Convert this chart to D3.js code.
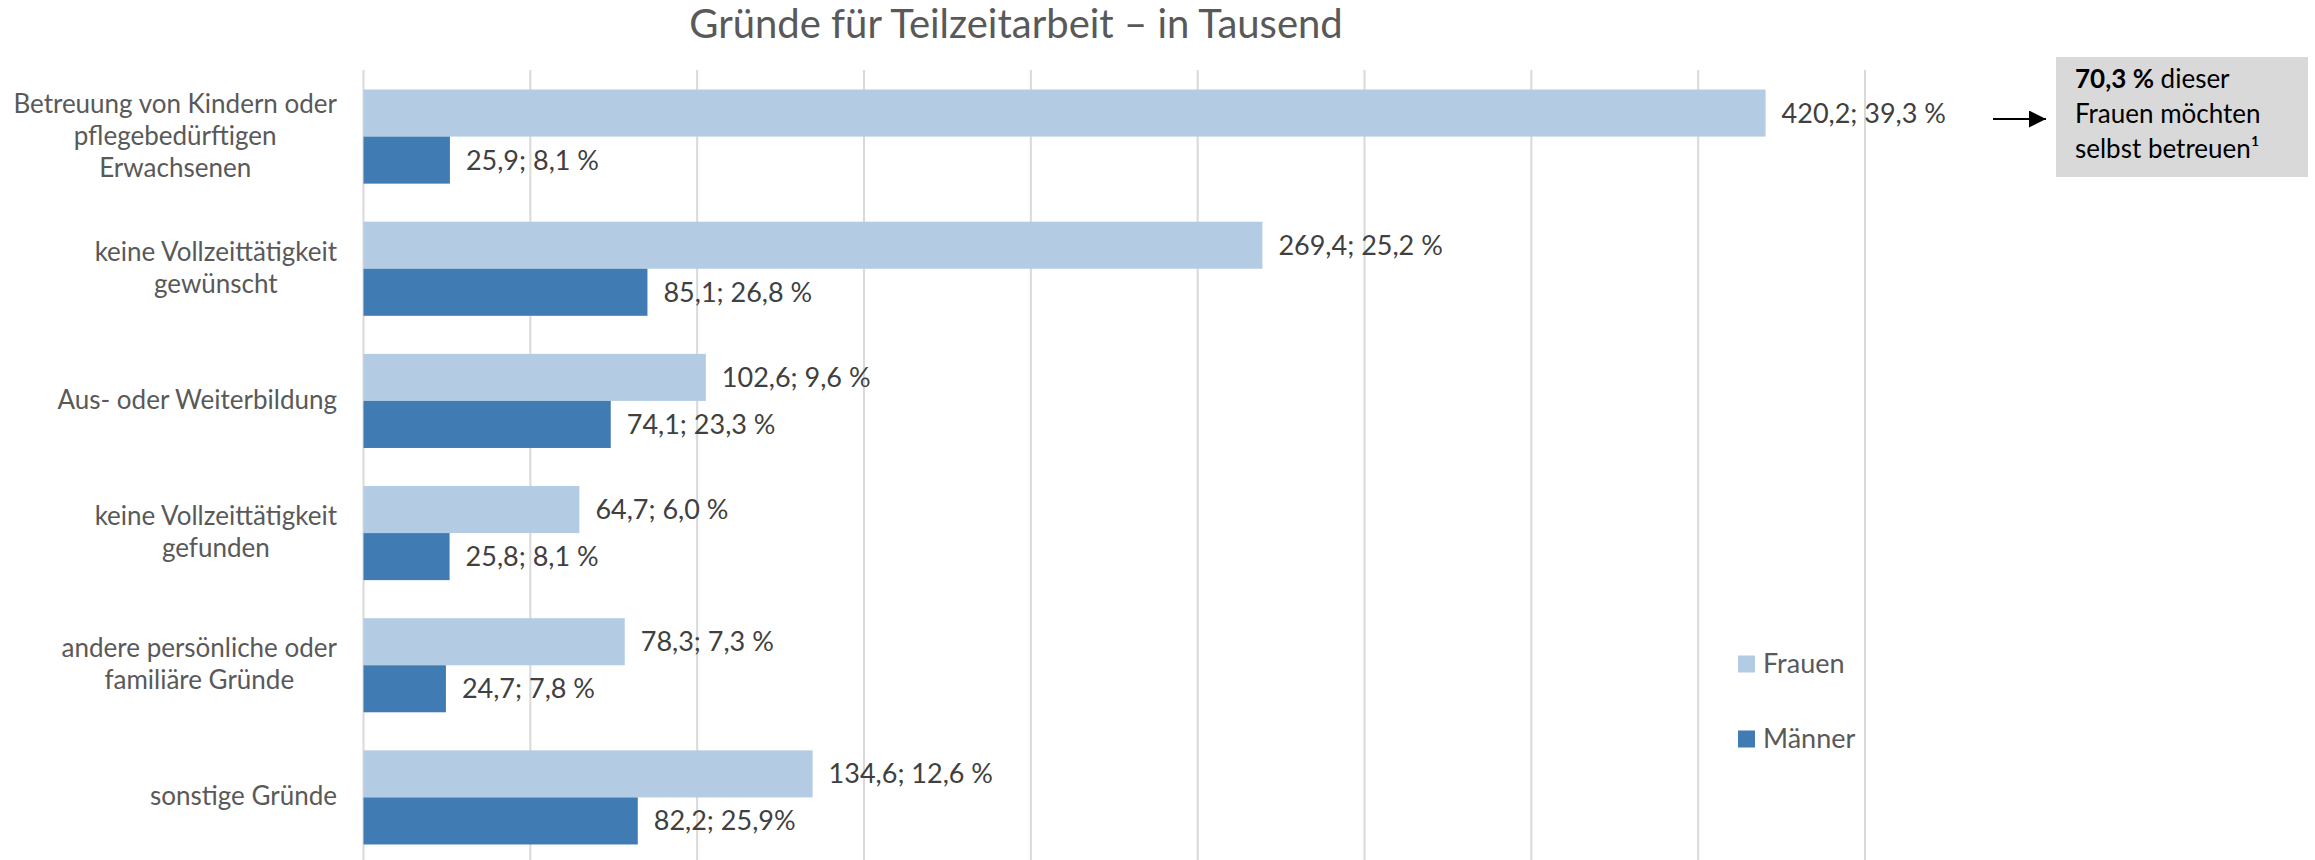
<!DOCTYPE html>
<html lang="de">
<head>
<meta charset="utf-8">
<title>Gründe für Teilzeitarbeit</title>
<script src="https://cdn.jsdelivr.net/npm/d3@7"></script>
<style>
  html, body { margin: 0; padding: 0; background: #ffffff; }
  svg { display: block; font-family: Lato, "Open Sans", sans-serif; }
</style>
</head>
<body>
<svg id="chart" width="2315" height="860"></svg>
<script>
// Reasons for part-time work, in thousands (women / men) with share of each group
const categories = [
  ["Betreuung von Kindern oder", "pflegebedürftigen", "Erwachsenen"],
  ["keine Vollzeittätigkeit", "gewünscht"],
  ["Aus- oder Weiterbildung"],
  ["keine Vollzeittätigkeit", "gefunden"],
  ["andere persönliche oder", "familiäre Gründe"],
  ["sonstige Gründe"]
];
const seriesNames = ["Frauen", "Männer"];
const frauen = [420.2, 269.4, 102.6, 64.7, 78.3, 134.6];
const maenner = [25.9, 85.1, 74.1, 25.8, 24.7, 82.2];
const frauenShare = ["39,3 %", "25,2 %", "9,6 %", "6,0 %", "7,3 %", "12,6 %"];
const maennerShare = ["8,1 %", "26,8 %", "23,3 %", "8,1 %", "7,8 %", "25,9%"];
const gridTicks = [0, 50, 100, 150, 200, 250, 300, 350, 400, 450];
const titleText = "Gründe für Teilzeitarbeit – in Tausend";
const noteBold = "70,3 %";
const noteLines = [" dieser", "Frauen möchten", "selbst betreuen¹"];

const colors = { Frauen: "#b3cce3", "Männer": "#407bb3" };

const svg = d3.select("#chart");
const catKeys = categories.map(c => c.join(" "));

const x = d3.scaleLinear().domain([0, 450]).range([363.5, 1865]);
const y = d3.scaleBand().domain(catKeys).range([70.5, 863.5])
  .paddingInner(0.288).paddingOuter(0.144);
const ySub = d3.scaleBand().domain(seriesNames).range([0, y.bandwidth()]);

const fmt = v => d3.format(".1f")(v).replace(".", ",");

// vertical gridlines
svg.append("g").selectAll("line").data(gridTicks).join("line")
  .attr("x1", d => x(d)).attr("x2", d => x(d))
  .attr("y1", 70).attr("y2", 860)
  .attr("stroke", "#d9d9d9").attr("stroke-width", 2);

// title
svg.append("text")
  .attr("x", 1016).attr("y", 38)
  .attr("text-anchor", "middle")
  .attr("fill", "#595959")
  .style("font-size", "40px")
  .text(titleText);

// bars and value labels
const rows = catKeys.map((k, i) => ({
  key: k,
  values: [
    { s: "Frauen", v: frauen[i], share: frauenShare[i] },
    { s: "Männer", v: maenner[i], share: maennerShare[i] }
  ]
}));

const groups = svg.append("g").selectAll("g").data(rows).join("g")
  .attr("transform", d => `translate(0,${y(d.key)})`);

groups.selectAll("rect").data(d => d.values).join("rect")
  .attr("x", x(0))
  .attr("y", d => ySub(d.s))
  .attr("width", d => x(d.v) - x(0))
  .attr("height", ySub.bandwidth())
  .attr("fill", d => colors[d.s]);

groups.selectAll("text.val").data(d => d.values).join("text")
  .attr("class", "val")
  .attr("x", d => x(d.v) + 16)
  .attr("y", d => ySub(d.s) + ySub.bandwidth() / 2)
  .attr("dy", "0.35em")
  .attr("fill", "#404040")
  .style("font-size", "27px")
  .text(d => `${fmt(d.v)}; ${d.share}`);

// category labels: lines centred within a right-aligned block
const labelRight = 337, lineGap = 32;
categories.forEach((lines, i) => {
  const cy = y(catKeys[i]) + y.bandwidth() / 2;
  const g = svg.append("g");
  const texts = lines.map((ln, j) => g.append("text")
    .attr("y", cy + 8 + (j - (lines.length - 1) / 2) * lineGap)
    .attr("text-anchor", "middle")
    .attr("fill", "#595959")
    .style("font-size", "26px")
    .text(ln));
  const w = d3.max(texts, t => t.node().getComputedTextLength());
  texts.forEach(t => t.attr("x", labelRight - w / 2));
});

// legend
const legend = svg.append("g").selectAll("g").data(seriesNames).join("g")
  .attr("transform", (d, i) => `translate(1738,${664 + i * 75})`);
legend.append("rect")
  .attr("x", 0).attr("y", -8.5).attr("width", 17).attr("height", 17)
  .attr("fill", d => colors[d]);
legend.append("text")
  .attr("x", 25).attr("y", 0).attr("dy", "0.35em")
  .attr("fill", "#595959")
  .style("font-size", "27px")
  .text(d => d);

// note box with arrow
const defs = svg.append("defs");
defs.append("marker")
  .attr("id", "arrowhead")
  .attr("viewBox", "0 0 10 10")
  .attr("refX", 10).attr("refY", 5)
  .attr("markerWidth", 17).attr("markerHeight", 17)
  .attr("markerUnits", "userSpaceOnUse")
  .attr("orient", "auto")
  .append("path").attr("d", "M0,0 L10,5 L0,10 Z").attr("fill", "#000");

svg.append("line")
  .attr("x1", 1993).attr("x2", 2046)
  .attr("y1", 119).attr("y2", 119)
  .attr("stroke", "#000").attr("stroke-width", 2.2)
  .attr("marker-end", "url(#arrowhead)");

svg.append("rect")
  .attr("x", 2056).attr("y", 57).attr("width", 252).attr("height", 120)
  .attr("fill", "#d9d9d9");

const note = svg.append("g").style("font-size", "26px").attr("fill", "#000");
const first = note.append("text").attr("x", 2075).attr("y", 88);
first.append("tspan").style("font-weight", "bold").text(noteBold);
first.append("tspan").text(noteLines[0]);
note.append("text").attr("x", 2075).attr("y", 123).text(noteLines[1]);
note.append("text").attr("x", 2075).attr("y", 158).text(noteLines[2]);
</script>
</body>
</html>
